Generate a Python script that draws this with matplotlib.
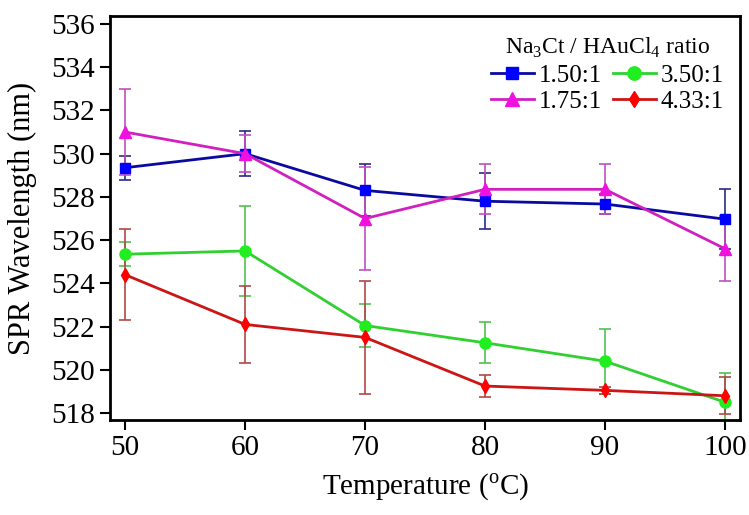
import numpy as np
import matplotlib.pyplot as plt

plt.rcParams['font.family'] = ['Liberation Serif', 'DejaVu Serif']
plt.rcParams['mathtext.fontset'] = 'custom'
plt.rcParams['mathtext.rm'] = 'Liberation Serif'

# temperature (°C)
temps = [50, 60, 70, 80, 90, 100]

# SPR peak positions (nm) and their error bars for each Na3Ct/HAuCl4 ratio
spr_150 = [529.35, 530.0, 528.3, 527.8, 527.67, 526.97]
err_150 = [0.55, 1.05, 1.2, 1.3, 0.45, 1.4]

spr_175 = [531.0, 530.0, 527.0, 528.35, 528.35, 525.6]
err_175 = [2.0, 0.85, 2.4, 1.15, 1.15, 1.5]

spr_350 = [525.35, 525.5, 522.05, 521.25, 520.4, 518.5]
err_350 = [0.55, 2.1, 1.0, 0.95, 1.5, 1.35]

spr_433 = [524.4, 522.1, 521.5, 519.25, 519.05, 518.8]
err_433 = [2.1, 1.8, 2.6, 0.5, 0.15, 0.85]

labels = ['1.50:1', '1.75:1', '3.50:1', '4.33:1']

fig = plt.figure(figsize=(7.49, 5.15), dpi=100)
ax = fig.add_axes([0.147, 0.1845, 0.841, 0.7845])

series = [
    (spr_150, err_150, 's', '#0a0aa0', '#0000ff', '#2a2a8a', 7),
    (spr_175, err_175, '^', '#d020c0', '#f010e0', '#c050c0', 8),
    (spr_350, err_350, 'o', '#30d030', '#20ee20', '#50c050', 8),
    (spr_433, err_433, 'd', '#cc1515', '#ff0000', '#b04848', 7),
]

handles = []
for (y, e, m, lc, mc, ec, ms), lab in zip(series, labels):
    ax.errorbar(temps, y, yerr=e, fmt='none', ecolor=ec, elinewidth=1.2,
                capsize=4, capthick=1.2, zorder=2)
    h, = ax.plot(temps, y, color=lc, lw=2, marker=m, ms=ms,
                 mfc=mc, mec=mc, label=lab, zorder=3)
    handles.append(h)

ax.set_xlim(48.75, 101.25)
ax.set_ylim(517.68, 536.37)
ax.set_xticks(temps)
ax.set_yticks(np.arange(518, 537, 2))

ax.tick_params(direction='out', length=7, width=1.5, labelsize=21, pad=4)
for s in ax.spines.values():
    s.set_linewidth(2)

ax.set_xlabel('Temperature ($^{\\mathrm{o}}$C)', fontsize=21, labelpad=8)
ax.set_ylabel('SPR Wavelength (nm)', fontsize=22, labelpad=10)

leg = ax.legend(handles=handles, ncol=2, loc='upper right',
                bbox_to_anchor=(1.0, 0.99),
                title='Na$_3$Ct / HAuCl$_4$ ratio', frameon=False,
                fontsize=18, title_fontsize=17, handlelength=1.7,
                handletextpad=0.2, columnspacing=0.45, labelspacing=0.15,
                markerscale=1.2, borderaxespad=0.45, borderpad=0.2)

fig.savefig('out.png', dpi=100)
